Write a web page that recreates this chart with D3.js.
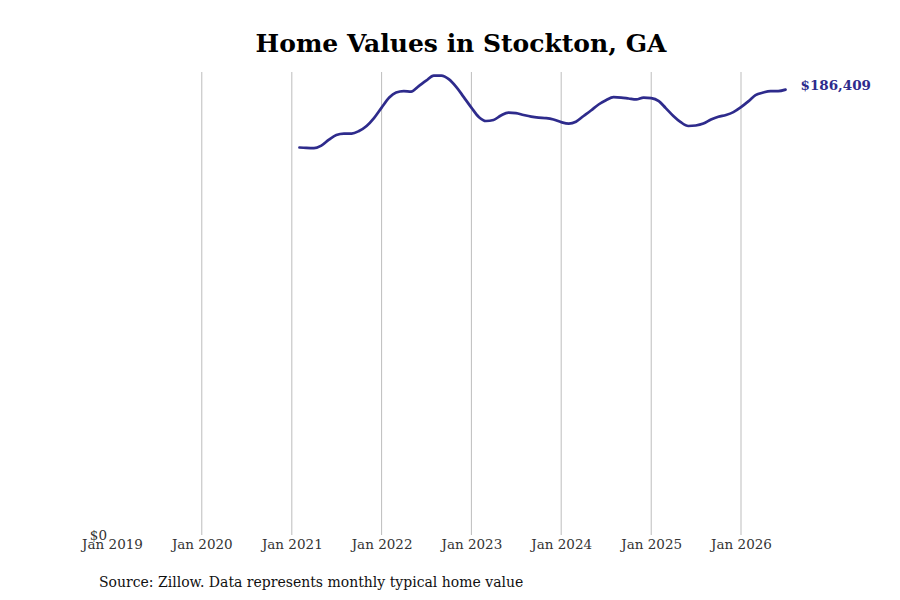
<!DOCTYPE html>
<html>
<head>
<meta charset="utf-8">
<script src="https://cdn.jsdelivr.net/npm/d3@7"></script>
<style>
  body { margin: 0; background: #fff; }
  text { font-family: "DejaVu Serif", serif; }
</style>
</head>
<body>
<div id="chart"></div>
<script>
// Monthly typical home value, Stockton GA
const startMonth = "2021-02";
const homeValues = [
  162200, 162000, 161900, 163000, 165500, 167400, 168000, 168000, 169100, 171200, 174500,
  178900, 183100, 185200, 185800, 185600, 187900, 190200, 192300, 192300, 190800, 187500, 183300,
  178900, 174900, 173300, 173700, 175600, 176800, 176600, 175800, 175100, 174700, 174500, 173900,
  172800, 172200, 173000, 175400, 177700, 180200, 182000, 183300, 183100, 182700, 182300, 183100,
  182900, 181600, 178700, 175400, 172800, 171200, 171400, 172200, 173900, 175100, 175800, 177000,
  179100, 181600, 184100, 185200, 185800, 185800, 186409
];
const tickYears = [2019, 2020, 2021, 2022, 2023, 2024, 2025, 2026];
const yMax = 193800;

(function () {
  const lineColor = "#2e2b8c";
  const width = 900, height = 600;

  const parseMonth = d3.timeParse("%Y-%m");
  const first = parseMonth(startMonth);
  const data = homeValues.map(function (v, i) {
    return { date: d3.timeMonth.offset(first, i), value: v };
  });

  const svg = d3.select("#chart").append("svg")
    .attr("width", width)
    .attr("height", height);

  const x = d3.scaleTime()
    .domain([new Date(2019, 0, 1), new Date(2026, 0, 1)])
    .range([112, 741]);

  const y = d3.scaleLinear()
    .domain([0, yMax])
    .range([535, 72]);

  // vertical grid lines (none at the first tick)
  svg.append("g")
    .selectAll("line")
    .data(tickYears.slice(1))
    .enter()
    .append("line")
    .attr("x1", d => x(new Date(d, 0, 1)))
    .attr("x2", d => x(new Date(d, 0, 1)))
    .attr("y1", y(yMax))
    .attr("y2", y(0))
    .attr("stroke", "#bdbdbd")
    .attr("stroke-width", 1);

  // x axis
  const xAxis = svg.append("g")
    .attr("transform", "translate(0," + y(0) + ")")
    .call(d3.axisBottom(x)
      .tickValues(tickYears.map(d => new Date(d, 0, 1)))
      .tickFormat(d3.timeFormat("Jan %Y"))
      .tickSize(0)
      .tickPadding(4));
  xAxis.select(".domain").remove();
  xAxis.selectAll("text")
    .style("font-family", "DejaVu Serif")
    .style("font-size", "13.5px")
    .attr("fill", "#333");

  // y axis, only $0
  const yAxis = svg.append("g")
    .attr("transform", "translate(107,0)")
    .call(d3.axisLeft(y).tickValues([0]).tickFormat(d => "$" + d).tickSize(0).tickPadding(0));
  yAxis.select(".domain").remove();
  yAxis.selectAll("text")
    .style("font-family", "DejaVu Serif")
    .style("font-size", "13.5px")
    .attr("fill", "#333");

  // the line
  const line = d3.line()
    .x(d => x(d.date))
    .y(d => y(d.value))
    .curve(d3.curveMonotoneX);

  svg.append("path")
    .datum(data)
    .attr("fill", "none")
    .attr("stroke", lineColor)
    .attr("stroke-width", 2.7)
    .attr("stroke-linejoin", "round")
    .attr("stroke-linecap", "round")
    .attr("d", line);

  // end label
  const last = data[data.length - 1];
  svg.append("text")
    .attr("x", x(last.date) + 15)
    .attr("y", y(last.value))
    .attr("fill", lineColor)
    .style("font-size", "13.5px")
    .style("font-weight", "bold")
    .text(d3.format("$,")(last.value));

  // title
  svg.append("text")
    .attr("x", 461)
    .attr("y", 52)
    .attr("text-anchor", "middle")
    .style("font-size", "25px")
    .style("font-weight", "bold")
    .attr("fill", "#000")
    .text("Home Values in Stockton, GA");

  // source
  svg.append("text")
    .attr("x", 99)
    .attr("y", 587)
    .style("font-size", "14px")
    .attr("fill", "#111")
    .text("Source: Zillow. Data represents monthly typical home value");
})();
</script>
</body>
</html>
